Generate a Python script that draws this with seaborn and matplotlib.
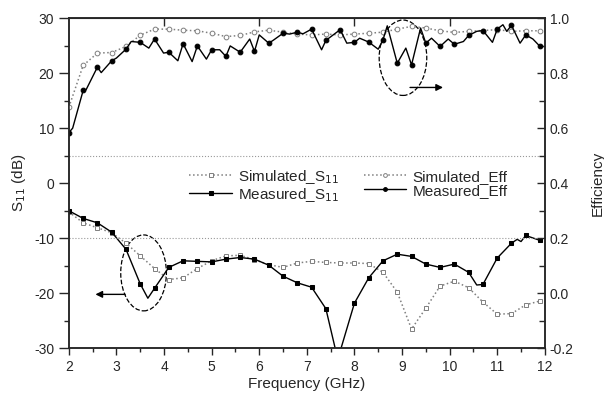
import numpy as np
import seaborn as sns
import matplotlib.pyplot as plt
from matplotlib.patches import Ellipse
from matplotlib.ticker import MultipleLocator, FormatStrFormatter

sns.set_style('ticks')
plt.rcParams['font.family'] = ['Liberation Sans', 'DejaVu Sans']
plt.rcParams['axes.unicode_minus'] = False

# frequency grid of the simulated data / marker positions (GHz)
freq = [2.0, 2.3, 2.6, 2.9, 3.2, 3.5, 3.8, 4.1, 4.4, 4.7, 5.0, 5.3, 5.6, 5.9, 6.2, 6.5, 6.8,
        7.1, 7.4, 7.7, 8.0, 8.3, 8.6, 8.9, 9.2, 9.5, 9.8, 10.1, 10.4, 10.7, 11.0, 11.3, 11.6, 11.9]

sim_s11 = [-5.2, -7.2, -8.1, -9.0, -10.9, -13.2, -15.5, -17.5, -17.2, -15.5, -14.1, -13.2, -13.1,
           -13.9, -14.8, -15.3, -14.5, -14.2, -14.4, -14.5, -14.5, -14.6, -16.2, -19.8, -26.5,
           -22.7, -18.7, -17.8, -19.0, -21.6, -23.8, -23.7, -22.1, -21.4]

sim_eff = [0.676, 0.828, 0.873, 0.875, 0.897, 0.938, 0.960, 0.960, 0.956, 0.954, 0.945, 0.933,
           0.937, 0.950, 0.956, 0.949, 0.942, 0.939, 0.942, 0.939, 0.942, 0.945, 0.949, 0.960,
           0.970, 0.964, 0.954, 0.948, 0.952, 0.955, 0.958, 0.952, 0.954, 0.954]

# measured S11 (extra points between markers)
meas_s11_freq = [2.0, 2.3, 2.6, 2.9, 3.2, 3.5, 3.66, 3.8, 4.1, 4.4, 4.7, 5.0, 5.3, 5.6, 5.9,
                 6.2, 6.5, 6.8, 7.1, 7.4, 7.65, 8.0, 8.3, 8.6, 8.9, 9.2, 9.5, 9.8, 10.1, 10.4,
                 10.57, 10.7, 11.0, 11.3, 11.42, 11.5, 11.6, 11.9]
meas_s11 = [-5.0, -6.4, -7.2, -8.9, -12.0, -18.3, -20.9, -19.1, -15.3, -14.1, -14.2, -14.3,
            -13.8, -13.5, -13.8, -14.9, -16.9, -18.1, -18.9, -22.8, -32.0, -21.8, -17.2, -14.1,
            -12.9, -13.3, -14.7, -15.3, -14.7, -16.2, -18.5, -18.4, -13.6, -10.9, -10.2, -10.6,
            -9.5, -10.4]

# measured efficiency (extra points between markers)
meas_eff_freq = [2.0, 2.08, 2.3, 2.36, 2.6, 2.68, 2.9, 3.0, 3.2, 3.31, 3.5, 3.68, 3.8, 3.99,
                 4.1, 4.29, 4.4, 4.59, 4.7, 4.89, 5.0, 5.17, 5.3, 5.39, 5.6, 5.8, 5.9, 6.0, 6.2,
                 6.29, 6.5, 6.64, 6.8, 6.92, 7.1, 7.31, 7.4, 7.7, 7.84, 8.0, 8.11, 8.3, 8.5,
                 8.6, 8.69, 8.9, 9.08, 9.2, 9.39, 9.5, 9.62, 9.8, 9.97, 10.1, 10.29, 10.4,
                 10.57, 10.7, 10.9, 11.0, 11.12, 11.2, 11.3, 11.48, 11.6, 11.75, 11.9]
meas_eff = [0.584, 0.600, 0.737, 0.739, 0.822, 0.802, 0.845, 0.855, 0.887, 0.915, 0.912, 0.891,
            0.924, 0.873, 0.876, 0.845, 0.907, 0.842, 0.899, 0.851, 0.885, 0.885, 0.861, 0.899,
            0.876, 0.924, 0.879, 0.939, 0.909, 0.919, 0.945, 0.942, 0.949, 0.943, 0.960, 0.885,
            0.919, 0.958, 0.909, 0.912, 0.927, 0.913, 0.887, 0.921, 0.972, 0.836, 0.891, 0.830,
            0.964, 0.909, 0.927, 0.897, 0.924, 0.905, 0.915, 0.937, 0.952, 0.955, 0.912, 0.960,
            0.976, 0.952, 0.974, 0.909, 0.939, 0.924, 0.897]

grid = np.round(freq, 2)
mk_s11 = list(np.where(np.isin(np.round(meas_s11_freq, 2), grid))[0])
mk_eff = list(np.where(np.isin(np.round(meas_eff_freq, 2), grid))[0])

fig = plt.figure(figsize=(6.04, 3.94), dpi=100)
ax1 = fig.add_axes([0.114, 0.116, 0.788, 0.838])
ax2 = ax1.twinx()

gray = '#7f7f7f'
ms = 3.4
sns.lineplot(x=freq, y=sim_s11, ax=ax1, color=gray, linestyle=':', lw=1.1, marker='s', markersize=ms,
             markerfacecolor='white', markeredgecolor=gray, markeredgewidth=0.7,
             label='Simulated_S$_{11}$')
sns.lineplot(x=meas_s11_freq, y=meas_s11, ax=ax1, color='black', lw=1.0, marker='s', markersize=ms,
             markevery=mk_s11, markeredgecolor='black', label='Measured_S$_{11}$')
sns.lineplot(x=freq, y=sim_eff, ax=ax2, color=gray, linestyle=':', lw=1.1, marker='o', markersize=ms,
             markerfacecolor='white', markeredgecolor=gray, markeredgewidth=0.7,
             label='Simulated_Eff')
sns.lineplot(x=meas_eff_freq, y=meas_eff, ax=ax2, color='black', lw=1.0, marker='o', markersize=ms,
             markevery=mk_eff, markeredgecolor='black', label='Measured_Eff')

for y in (5, -10):
    ax1.axhline(y, color='#999999', ls=':', lw=0.8)

# annotations
ax1.add_patch(Ellipse((3.57, -16.3), 0.96, 13.8, fill=False, ls='--', lw=0.9, color='black'))
ax1.add_patch(Ellipse((9.02, 22.8), 1.0, 13.7, fill=False, ls='--', lw=0.9, color='black'))
ax1.annotate('', xy=(2.5, -20.2), xytext=(3.24, -20.2),
             arrowprops=dict(arrowstyle='-|>', color='black', lw=1, mutation_scale=10))
ax1.annotate('', xy=(9.92, 17.4), xytext=(9.11, 17.4),
             arrowprops=dict(arrowstyle='-|>', color='black', lw=1, mutation_scale=10))

ax1.set_xlim(2, 12)
ax1.set_ylim(-30, 30)
ax2.set_ylim(-0.2, 1.0)
ax1.xaxis.set_major_locator(MultipleLocator(1))
ax1.xaxis.set_minor_locator(MultipleLocator(0.5))
ax1.yaxis.set_major_locator(MultipleLocator(10))
ax1.yaxis.set_minor_locator(MultipleLocator(5))
ax2.yaxis.set_major_locator(MultipleLocator(0.2))
ax2.yaxis.set_minor_locator(MultipleLocator(0.1))
ax2.yaxis.set_major_formatter(FormatStrFormatter('%.1f'))

ax1.tick_params(axis='x', which='major', direction='out', length=5, width=1, labelsize=10)
ax1.tick_params(axis='x', which='minor', direction='out', length=3, width=1)
ax1.tick_params(axis='y', which='major', direction='out', length=7, width=1, labelsize=10)
ax1.tick_params(axis='y', which='minor', direction='out', length=3.5, width=1)
ax2.tick_params(axis='y', which='major', direction='in', length=6, width=1, labelsize=10)
ax2.tick_params(axis='y', which='minor', direction='in', length=4, width=1)

top = ax1.secondary_xaxis('top')
top.set_xticks([4, 6, 8, 10])
top.tick_params(direction='in', length=6, width=1, labeltop=False)

for ax in (ax1, ax2):
    for s in ax.spines.values():
        s.set_linewidth(1.1)
        s.set_visible(True)

ax1.set_xlabel('Frequency (GHz)', fontsize=11, labelpad=2)
ax1.set_ylabel('S$_{11}$ (dB)', fontsize=11, labelpad=4)
ax2.set_ylabel('Efficiency', fontsize=11, labelpad=12)

h1, l1 = ax1.get_legend_handles_labels()
h2, l2 = ax2.get_legend_handles_labels()
ax1.get_legend().remove()
ax2.get_legend().remove()
ax2.legend(h1 + h2, l1 + l2, ncol=2, frameon=False, fontsize=11, loc='upper left',
           bbox_to_anchor=(0.24, 0.565), handlelength=2.8, columnspacing=1.6,
           labelspacing=0.0, handletextpad=0.4, borderaxespad=0, markerscale=0.8)

plt.savefig('out.png', dpi=100)
